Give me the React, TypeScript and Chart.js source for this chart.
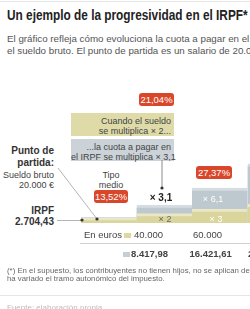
import React, { useEffect, useRef } from "react";
import { Chart, registerables } from "chart.js";

Chart.register(...registerables);

// ---- data ----
const categories = ["20.000", "40.000", "60.000", "80.000"];
const sueldo = [20000, 40000, 60000, 80000];
const irpf = [2704.43, 8417.98, 16421.61, 27800];

const FONT = '"Liberation Sans", Arial, Helvetica, sans-serif';

function fmt(n: number, dec: number): string {
  const s = n.toFixed(dec);
  const [i, d] = s.split(".");
  const g = i.replace(/\B(?=(\d{3})+(?!\d))/g, ".");
  return d ? g + "," + d : g;
}
function mult(v: number, base: number): string {
  const r = (v / base).toFixed(1).replace(".", ",");
  return r.endsWith(",0") ? r.slice(0, -2) : r;
}
function pct(i: number): string {
  return ((irpf[i] / sueldo[i]) * 100).toFixed(2).replace(".", ",") + "%";
}

const abs = (s: React.CSSProperties): React.CSSProperties => ({
  position: "absolute",
  whiteSpace: "nowrap",
  ...s,
});

function Badge({ left, top, w, text }: { left: number; top: number; w: number; text: string }) {
  return (
    <div
      style={abs({
        left,
        top,
        width: w,
        height: 13,
        background: "#d9472b",
        borderRadius: 3,
        color: "#fff",
        fontSize: 9.5,
        lineHeight: "13px",
        textAlign: "center",
      })}
    >
      {text}
    </div>
  );
}

export default function App() {
  const ref = useRef<HTMLCanvasElement | null>(null);

  useEffect(() => {
    document.body.style.margin = "0";
    const c = ref.current;
    if (!c) return;
    const chart = new Chart(c, {
      type: "bar",
      data: {
        labels: categories,
        datasets: [
          {
            label: "Sueldo",
            data: sueldo,
            yAxisID: "y",
            backgroundColor: "#d9d59c",
            borderColor: "#e9e7c6",
            borderWidth: { top: 3, left: 0, right: 0, bottom: 0 },
            grouped: false,
            order: 1,
            categoryPercentage: 1,
            barPercentage: 1,
          } as any,
          {
            label: "IRPF",
            data: irpf,
            yAxisID: "y1",
            backgroundColor: "#bec8cf",
            borderColor: "#d6dde2",
            borderWidth: { top: 3, left: 0, right: 0, bottom: 0 },
            grouped: false,
            order: 2,
            categoryPercentage: 1,
            barPercentage: 1,
          } as any,
        ],
      },
      options: {
        animation: false,
        responsive: false,
        layout: { padding: 0 },
        plugins: { legend: { display: false }, tooltip: { enabled: false } },
        scales: {
          x: { display: false },
          y: { display: false, min: 0, max: 313000 },
          y1: { display: false, min: 0, max: 34250 },
        },
      },
    });
    return () => chart.destroy();
  }, []);

  const dark = "#333";
  const mid = "#555";

  return (
    <div
      style={{
        position: "fixed",
        left: 0,
        top: 0,
        width: 250,
        height: 309,
        overflow: "hidden",
        background: "#fff",
        fontFamily: FONT,
      }}
    >
      {/* top rule */}
      <div style={abs({ left: 0, top: 1, width: 250, height: 1, background: "#e6e6e6" })} />
      {/* title */}
      <div
        style={abs({
          left: 7,
          top: 7,
          fontSize: 14,
          fontWeight: "bold",
          color: "#222",
          lineHeight: "16px",
          transform: "scaleX(0.845)",
          transformOrigin: "0 0",
        })}
      >
        Un ejemplo de la progresividad en el IRPF*
      </div>
      {/* subtitle */}
      <div style={abs({ left: 7, top: 33, fontSize: 9.75, color: mid, lineHeight: "12px" })}>
        El gráfico refleja cómo evoluciona la cuota a pagar en el IRPF a medida que aumenta
        <br />
        el sueldo bruto. El punto de partida es un salario de 20.000 euros brutos anuales.
      </div>

      {/* explanation boxes */}
      <Badge left={139} top={93} w={35} text={pct(1)} />
      <div
        style={abs({
          left: 71,
          top: 113,
          width: 100,
          height: 20,
          paddingRight: 3,
          paddingTop: 3,
          background: "#dedba9",
          color: "#444",
          fontSize: 9,
          lineHeight: "10px",
          textAlign: "right",
        })}
      >
        Cuando el sueldo
        <br />
        se multiplica × {mult(sueldo[1], sueldo[0])}...
      </div>
      <div
        style={abs({
          left: 71,
          top: 139,
          width: 100,
          paddingRight: 3,
          paddingTop: 3,
          height: 19,
          background: "#cbd3d9",
          color: "#444",
          fontSize: 9,
          lineHeight: "10px",
          textAlign: "right",
        })}
      >
        ...la cuota a pagar en
        <br />
        el IRPF se multiplica × {mult(irpf[1], irpf[0])}
      </div>

      {/* left annotations */}
      <div style={abs({ right: 196, top: 145, fontSize: 10, fontWeight: "bold", color: dark, lineHeight: "12px", textAlign: "right" })}>
        Punto de
        <br />
        partida:
      </div>
      <div style={abs({ right: 196, top: 170, fontSize: 9, color: "#444", lineHeight: "10px", textAlign: "right" })}>
        Sueldo bruto
        <br />
        {fmt(sueldo[0], 0)} €
      </div>
      <div style={abs({ right: 196, top: 205, fontSize: 10, fontWeight: "bold", color: dark, lineHeight: "11px", textAlign: "right" })}>
        IRPF
        <br />
        {fmt(irpf[0], 2)}
      </div>

      {/* tipo medio */}
      <div style={abs({ left: 91, width: 40, top: 170, fontSize: 9, color: "#444", lineHeight: "10px", textAlign: "center" })}>
        Tipo
        <br />
        medio
      </div>
      <Badge left={94} top={190} w={34} text={pct(0)} />
      <Badge left={196} top={166} w={36} text={pct(2)} />

      {/* chart */}
      <div style={abs({ left: 81, top: 150, width: 169, height: 73, overflow: "hidden" })}>
        <canvas ref={ref} width={222} height={73} style={{ width: 222, height: 73, display: "block" }} />
      </div>

      {/* leader lines + dots */}
      <svg style={abs({ left: 0, top: 0, width: 250, height: 309, pointerEvents: "none" })} width={250} height={309}>
        <line x1={162} y1={160} x2={162} y2={188} stroke="#8a8a8a" strokeWidth={1} />
        <line x1={58} y1={168} x2={97} y2={219} stroke="#b5b5b5" strokeWidth={1} />
        <line x1={57} y1={220.5} x2={82} y2={220.5} stroke="#b5b5b5" strokeWidth={1} />
        <circle cx={162} cy={188} r={1.6} fill="#333" />
        <circle cx={97} cy={219} r={1.6} fill="#333" />
        <circle cx={82} cy={220} r={1.6} fill="#333" />
      </svg>

      {/* in-chart labels */}
      <div style={abs({ left: 141, width: 40, top: 192, fontSize: 10, fontWeight: "bold", color: "#222", textAlign: "center", lineHeight: "12px" })}>
        × {mult(irpf[1], irpf[0])}
      </div>
      <div style={abs({ left: 193, width: 40, top: 193, fontSize: 9, color: "#fff", textAlign: "center", lineHeight: "12px" })}>
        × {mult(irpf[2], irpf[0])}
      </div>
      <div style={abs({ left: 145, width: 40, top: 213, fontSize: 9, color: "#666", textAlign: "center", lineHeight: "12px" })}>
        × {mult(sueldo[1], sueldo[0])}
      </div>
      <div style={abs({ left: 196, width: 40, top: 213, fontSize: 9, color: "#fff", textAlign: "center", lineHeight: "12px" })}>
        × {mult(sueldo[2], sueldo[0])}
      </div>

      {/* table */}
      <div style={abs({ left: 84, top: 229, fontSize: 9.5, color: "#444", lineHeight: "12px" })}>En euros</div>
      <div style={abs({ left: 124, top: 233, width: 7, height: 5, background: "#dcd89f" })} />
      {sueldo.slice(1).map((v, i) => (
        <div key={"s" + i} style={abs({ left: 134 + i * 59, top: 229, fontSize: 9.5, color: "#444", lineHeight: "12px" })}>
          {fmt(v, 0)}
        </div>
      ))}
      <div style={abs({ left: 80, top: 243, width: 170, height: 1, background: "#d0d0d0" })} />
      <div style={abs({ left: 123, top: 252, width: 7, height: 5, background: "#c5ced4" })} />
      {irpf.slice(1).map((v, i) => (
        <div key={"i" + i} style={abs({ left: 131 + i * 58.5, top: 248, fontSize: 9.5, fontWeight: "bold", color: "#444", lineHeight: "12px" })}>
          {fmt(v, 2)}
        </div>
      ))}

      {/* footnote */}
      <div style={abs({ left: 7, top: 267, fontSize: 7.8, color: "#666", lineHeight: "8px" })}>
        (*) En el supuesto, los contribuyentes no tienen hijos, no se aplican deducciones y no
        <br />
        ha variado el tramo autonómico del impuesto.
      </div>
      <div style={abs({ left: 0, top: 295, width: 250, height: 1, background: "#e6e6e6" })} />
      <div style={abs({ left: 7, top: 303, fontSize: 8, color: "#bbb", lineHeight: "10px" })}>
        Fuente: elaboración propia
      </div>
    </div>
  );
}
